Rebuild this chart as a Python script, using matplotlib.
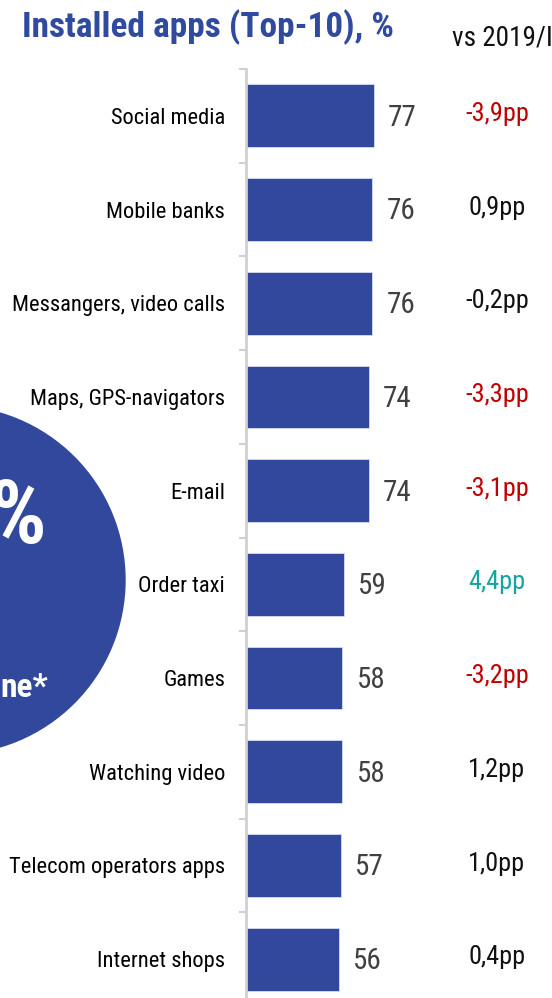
import matplotlib.pyplot as plt
from matplotlib.patches import Circle
from matplotlib.transforms import blended_transform_factory

plt.rcParams["font.family"] = ["Roboto Condensed", "DejaVu Sans"]

categories = ["Social media", "Mobile banks", "Messangers, video calls",
              "Maps, GPS-navigators", "E-mail", "Order taxi", "Games",
              "Watching video", "Telecom operators apps", "Internet shops"]
values = [77, 76, 76, 74, 74, 59, 58, 58, 57, 56]
deltas = ["-3,9pp", "0,9pp", "-0,2pp", "-3,3pp", "-3,1pp", "4,4pp",
          "-3,2pp", "1,2pp", "1,0pp", "0,4pp"]
delta_kind = ["neg", "flat", "flat", "neg", "neg", "pos", "neg", "flat", "flat", "flat"]

blue = "#31489c"
kind_colors = {"neg": "#c00000", "flat": "#111111", "pos": "#16a59c"}

W, H = 552, 998
fig = plt.figure(figsize=(W / 100, H / 100), dpi=100)

# background layer in pixel coords for the circle and its text
bg = fig.add_axes([0, 0, 1, 1])
bg.set_xlim(0, W)
bg.set_ylim(H, 0)
bg.axis("off")
bg.add_patch(Circle((-49, 580), 174, color=blue, zorder=0))
bg.text(46, 519, "%", color="white", fontsize=64, fontweight="bold",
        ha="right", va="center")
bg.text(48, 688, "ne*", color="white", fontsize=24, fontweight="bold",
        ha="right", va="center")
bg.text(22, 27, "Installed apps (Top-10), %", color="#2f4a9e", fontsize=25.5,
        fontweight="bold", ha="left", va="center")
bg.text(452, 38, "vs 2019/I", color="#111111", fontsize=19.5,
        ha="left", va="center")

# bar chart axes: x=246 px is zero, 1.663 px per unit
px = 1.663
top, step = 69, 93.7
bottom = top + step * len(categories)
ax = fig.add_axes([246 / W, 1 - bottom / H, (W - 246) / W, (bottom - top) / H])
ax.patch.set_alpha(0)
ypos = list(range(len(categories)))
ax.barh(ypos, values, height=0.67, color=blue, edgecolor="#d8dcef", linewidth=0.6)
ax.set_xlim(0, (W - 246) / px)
ax.set_ylim(len(categories) - 0.5, -0.5)

for s in ["top", "right", "bottom"]:
    ax.spines[s].set_visible(False)
ax.spines["left"].set_color("#d0d0d0")
ax.spines["left"].set_linewidth(2)
ax.set_xticks([])
ax.set_yticks(ypos)
ax.set_yticklabels(categories, fontsize=16.2)
ax.tick_params(axis="y", which="major", length=0, pad=15)
ax.set_yticks([i - 0.5 for i in range(len(categories) + 1)], minor=True)
ax.tick_params(axis="y", which="minor", length=5, width=1.5, color="#d0d0d0")

for y, v in zip(ypos, values):
    ax.text(v + 8.5, y + 0.02, str(v), fontsize=21, color="#404040",
            ha="left", va="center")

tr = blended_transform_factory(fig.transFigure, ax.transData)
for y, d, k in zip(ypos, deltas, delta_kind):
    ax.text(497 / W, y - 0.02, d, fontsize=19, color=kind_colors[k],
            ha="center", va="center", transform=tr)

fig.savefig("out.png", dpi=100)
